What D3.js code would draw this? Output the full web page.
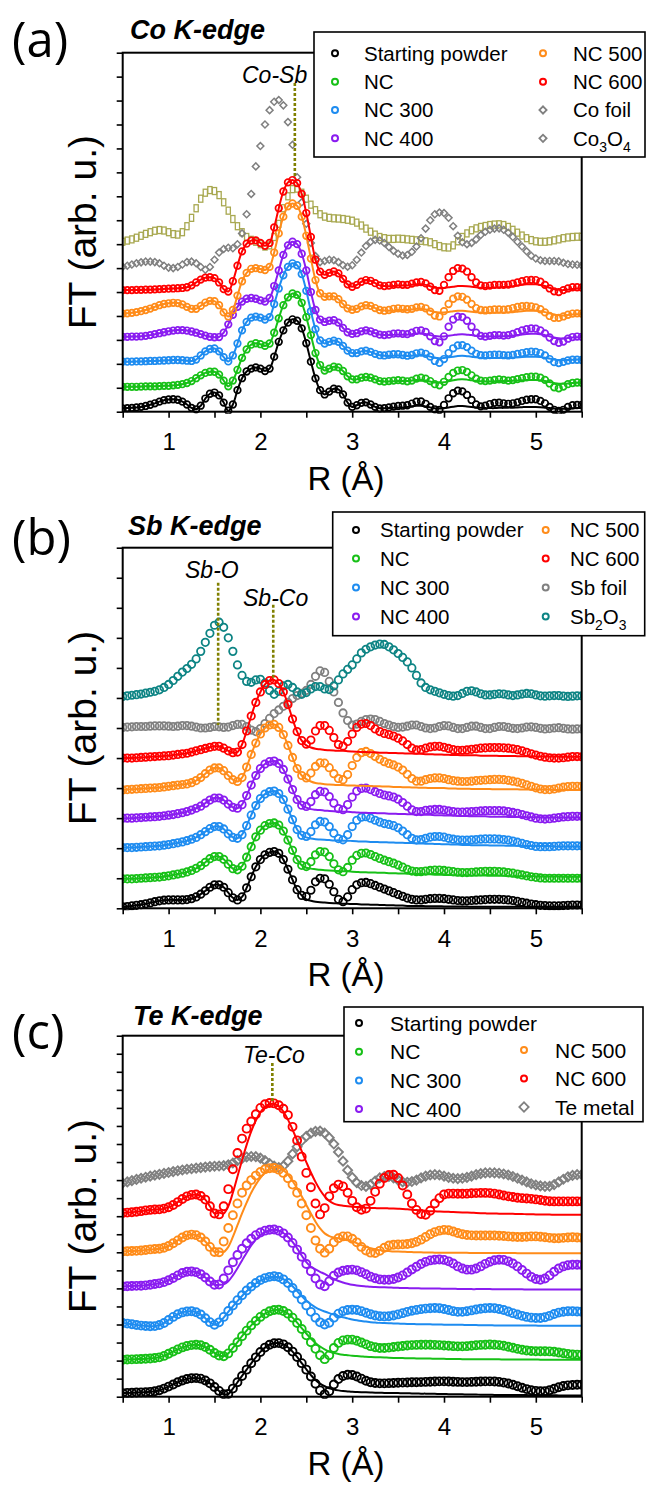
<!DOCTYPE html>
<html>
<head>
<meta charset="utf-8">
<script src="https://cdn.jsdelivr.net/npm/d3@7"></script>
<style>
  body { margin: 0; background: #fff; }
  svg { display: block; }
</style>
</head>
<body>
<svg id="chart" width="649" height="1487"></svg>
<script>
// ---------------------------------------------------------------
//  Data (FT magnitude, arb. u. on a 0.05 Å grid)
// ---------------------------------------------------------------

var rGrid = d3.range(101).map(function(i) { return Math.round((0.5 + i * 0.05) * 100) / 100; });
var rTicks = [0.5, 1, 1.5, 2, 2.5, 3, 3.5, 4, 4.5, 5, 5.5];

//  (a) Co K-edge
var coStart = [0.14,0.15,0.16,0.18,0.20,0.24,0.29,0.35,0.42,0.48, 0.51,0.52,0.50,0.42,0.30,0.16,0.10,0.25,0.55,0.75,
  0.80,0.68,0.38,0.04,0.30,0.90,1.40,1.68,1.80,1.85, 1.80,1.70,1.80,2.30,2.92,3.40,3.72,3.86,3.80,3.48,
  2.86,2.09,1.39,0.90,0.72,0.84,0.96,0.93,0.72,0.38, 0.20,0.27,0.37,0.39,0.30,0.20,0.14,0.15,0.18,0.21,
  0.24,0.25,0.27,0.34,0.42,0.43,0.33,0.20,0.10,0.07, 0.28,0.56,0.77,0.88,0.85,0.70,0.49,0.30,0.22,0.25,
  0.32,0.37,0.38,0.35,0.33,0.35,0.39,0.45,0.50,0.52, 0.52,0.45,0.35,0.20,0.08,0.03,0.08,0.20,0.27,0.28, 0.28];
var coNC = [1.04,1.04,1.04,1.04,1.05,1.06,1.06,1.06,1.07,1.08, 1.08,1.10,1.12,1.15,1.20,1.28,1.40,1.52,1.62,1.67,
  1.67,1.55,1.30,1.06,1.30,1.75,2.25,2.60,2.80,2.86, 2.82,2.75,2.85,3.30,3.90,4.45,4.78,4.94,4.88,4.55,
  3.95,3.20,2.45,1.95,1.72,1.80,1.88,1.85,1.70,1.48, 1.35,1.35,1.42,1.45,1.42,1.35,1.28,1.26,1.28,1.30,
  1.32,1.30,1.27,1.30,1.38,1.42,1.38,1.28,1.15,1.10, 1.25,1.45,1.62,1.72,1.74,1.66,1.52,1.38,1.30,1.28,
  1.30,1.33,1.35,1.33,1.30,1.32,1.36,1.40,1.44,1.46, 1.46,1.42,1.33,1.18,1.02,0.98,1.05,1.15,1.20,1.22, 1.21];
var coNC300 = [2.09,2.09,2.09,2.10,2.10,2.11,2.12,2.12,2.13,2.14, 2.15,2.16,2.16,2.15,2.13,2.12,2.18,2.35,2.52,2.62,
  2.64,2.52,2.28,2.10,2.35,2.85,3.40,3.75,3.93,3.97, 3.93,3.85,3.95,4.50,5.15,5.70,6.05,6.20,6.12,5.75,
  5.05,4.20,3.45,2.98,2.85,2.92,2.97,2.92,2.75,2.55, 2.45,2.45,2.52,2.55,2.50,2.42,2.36,2.35,2.38,2.40,
  2.40,2.37,2.34,2.37,2.44,2.47,2.42,2.30,2.12,2.04, 2.20,2.45,2.65,2.77,2.78,2.70,2.55,2.42,2.36,2.35,
  2.37,2.38,2.38,2.36,2.35,2.37,2.41,2.45,2.49,2.51, 2.50,2.45,2.35,2.20,2.07,2.03,2.08,2.14,2.17,2.17, 2.16];
var coNC400 = [3.13,3.13,3.14,3.14,3.15,3.17,3.20,3.24,3.28,3.32, 3.36,3.39,3.41,3.41,3.39,3.35,3.30,3.24,3.18,3.13,
  3.11,3.12,3.30,3.65,4.05,4.38,4.60,4.72,4.75,4.72, 4.65,4.60,4.75,5.25,5.90,6.55,6.95,7.10,7.00,6.60,
  5.90,5.00,4.25,3.85,3.75,3.80,3.82,3.72,3.50,3.32, 3.25,3.28,3.36,3.40,3.36,3.28,3.22,3.20,3.22,3.26,
  3.27,3.25,3.24,3.30,3.38,3.40,3.33,3.15,2.95,2.90, 3.15,3.55,3.85,3.97,3.95,3.80,3.55,3.30,3.17,3.14,
  3.17,3.20,3.20,3.18,3.20,3.25,3.32,3.40,3.45,3.48, 3.47,3.40,3.27,3.10,2.95,2.88,2.93,3.05,3.12,3.14, 3.13];
var coNC500 = [4.10,4.11,4.13,4.16,4.20,4.25,4.31,4.38,4.45,4.50, 4.53,4.55,4.54,4.48,4.38,4.30,4.30,4.42,4.56,4.63,
  4.62,4.45,4.15,3.98,4.25,4.85,5.45,5.80,5.97,6.00, 5.96,5.92,6.05,6.65,7.45,8.15,8.58,8.70,8.60,8.15,
  7.35,6.40,5.50,4.95,4.80,4.82,4.82,4.70,4.50,4.32, 4.26,4.30,4.40,4.45,4.42,4.33,4.25,4.22,4.25,4.30,
  4.32,4.30,4.28,4.30,4.36,4.38,4.32,4.18,4.02,3.98, 4.20,4.50,4.72,4.82,4.80,4.68,4.50,4.33,4.25,4.23,
  4.25,4.27,4.27,4.26,4.28,4.33,4.38,4.41,4.42,4.40, 4.36,4.28,4.15,4.00,3.92,3.92,3.98,4.05,4.10,4.11, 4.10];
var coNC600 = [5.08,5.08,5.08,5.09,5.09,5.10,5.10,5.11,5.12,5.13, 5.14,5.15,5.16,5.17,5.20,5.28,5.40,5.52,5.60,5.62,
  5.58,5.40,5.12,5.02,5.45,6.10,6.70,7.02,7.15,7.16, 7.05,6.93,7.05,7.70,8.50,9.20,9.58,9.68,9.55,9.10,
  8.30,7.30,6.35,5.85,5.72,5.80,5.86,5.78,5.55,5.32, 5.22,5.30,5.43,5.50,5.47,5.37,5.28,5.25,5.27,5.30,
  5.32,5.30,5.30,5.35,5.40,5.42,5.36,5.22,5.08,5.05, 5.30,5.62,5.88,6.00,5.98,5.85,5.62,5.40,5.28,5.25,
  5.27,5.30,5.30,5.30,5.31,5.35,5.40,5.45,5.50,5.51, 5.50,5.43,5.30,5.15,5.03,5.00,5.08,5.15,5.20,5.20, 5.19];
var coFoil = [6.06,6.10,6.15,6.20,6.24,6.27,6.27,6.25,6.20,6.10, 6.02,6.00,6.05,6.15,6.25,6.27,6.20,6.05,5.93,6.05,
  6.35,6.65,6.80,6.85,6.83,7.00,7.45,8.25,9.10,10.25, 11.10,12.00,12.60,12.95,13.02,12.80,12.10,11.15,9.80,8.75,
  7.85,7.05,6.50,6.25,6.30,6.35,6.33,6.25,6.12,6.06, 6.12,6.35,6.65,6.92,7.10,7.18,7.15,7.05,6.88,6.72,
  6.60,6.53,6.55,6.68,6.90,7.25,7.65,8.00,8.25,8.32, 8.30,8.10,7.75,7.35,7.08,7.00,7.05,7.20,7.38,7.52,
  7.60,7.65,7.66,7.60,7.48,7.30,7.10,6.90,6.70,6.52, 6.40,6.33,6.30,6.30,6.30,6.28,6.22,6.17,6.15,6.14, 6.12];
var co3O4 = [7.10,7.15,7.20,7.27,7.35,7.43,7.50,7.56,7.59,7.57, 7.50,7.42,7.40,7.50,7.75,8.10,8.50,8.90,9.15,9.26,
  9.22,9.05,8.75,8.40,8.05,7.75,7.50,7.30,7.18,7.10, 7.00,6.90,6.95,7.30,7.85,8.50,9.00,9.30,9.32,9.15,
  8.90,8.65,8.42,8.25,8.15,8.10,8.08,8.07,8.05,8.02, 7.98,7.90,7.78,7.65,7.52,7.40,7.30,7.25,7.22,7.22,
  7.23,7.22,7.20,7.18,7.16,7.14,7.12,7.08,7.00,6.92, 6.87,6.86,6.95,7.12,7.30,7.45,7.58,7.66,7.72,7.76,
  7.80,7.82,7.83,7.80,7.72,7.60,7.48,7.36,7.25,7.17, 7.12,7.10,7.10,7.12,7.16,7.20,7.25,7.28,7.30,7.31, 7.31];

//  (a) fits: identical to the data up to 3.25 Å, read separately beyond
var coFitTailStart = [0.14,0.14,0.15,0.16,0.17,0.18,0.20,0.23,0.25,0.25, 0.22,0.18,0.14,0.13,0.15,0.18,0.21,0.24,0.24,0.22,
  0.20,0.18,0.16,0.15,0.15,0.15,0.16,0.16,0.17,0.17, 0.18,0.19,0.20,0.20,0.20,0.19,0.17,0.15,0.13,0.12, 0.12,0.13,0.14,0.15,0.15];
var coFitTailNC = [1.28,1.26,1.26,1.27,1.28,1.28,1.28,1.30,1.32,1.32, 1.30,1.26,1.22,1.21,1.23,1.27,1.31,1.35,1.36,1.34,
  1.31,1.29,1.27,1.26,1.26,1.27,1.28,1.28,1.28,1.29, 1.30,1.31,1.32,1.32,1.32,1.31,1.28,1.24,1.20,1.17, 1.17,1.18,1.20,1.21,1.22];
var coFitTailNC300 = [2.36,2.34,2.33,2.34,2.35,2.34,2.33,2.34,2.36,2.37, 2.35,2.30,2.25,2.23,2.24,2.27,2.30,2.33,2.34,2.32,
  2.30,2.27,2.25,2.24,2.24,2.24,2.25,2.25,2.25,2.26, 2.27,2.29,2.30,2.30,2.30,2.29,2.26,2.22,2.18,2.15, 2.15,2.16,2.17,2.18,2.18];
var coFitTailNC400 = [3.22,3.20,3.20,3.21,3.22,3.22,3.22,3.24,3.27,3.27, 3.25,3.20,3.16,3.14,3.14,3.17,3.20,3.23,3.24,3.22,
  3.20,3.17,3.15,3.14,3.14,3.14,3.15,3.15,3.16,3.18, 3.20,3.23,3.25,3.26,3.26,3.24,3.20,3.15,3.10,3.07, 3.06,3.08,3.10,3.11,3.12];
var coFitTailNC500 = [4.25,4.23,4.22,4.23,4.25,4.25,4.25,4.27,4.30,4.30, 4.27,4.22,4.17,4.15,4.15,4.17,4.20,4.22,4.22,4.20,
  4.18,4.16,4.14,4.13,4.13,4.13,4.14,4.14,4.15,4.16, 4.18,4.20,4.22,4.22,4.22,4.20,4.16,4.11,4.06,4.03, 4.02,4.04,4.06,4.07,4.08];
var coFitTailNC600 = [5.28,5.25,5.24,5.25,5.27,5.27,5.27,5.30,5.33,5.33, 5.30,5.24,5.18,5.16,5.17,5.20,5.22,5.25,5.25,5.24,
  5.22,5.20,5.18,5.18,5.18,5.19,5.20,5.21,5.22,5.24, 5.27,5.30,5.32,5.33,5.32,5.29,5.25,5.18,5.12,5.09, 5.08,5.10,5.13,5.15,5.16];

//  (b) Sb K-edge
var sbStart = [0.05,0.06,0.08,0.10,0.12,0.15,0.18,0.22,0.25,0.27, 0.28,0.28,0.28,0.28,0.29,0.32,0.38,0.47,0.58,0.70,
  0.78,0.78,0.70,0.52,0.35,0.28,0.38,0.68,1.05,1.38, 1.62,1.78,1.86,1.89,1.83,1.62,1.30,0.95,0.62,0.43,
  0.39,0.60,0.88,1.00,0.98,0.80,0.55,0.30,0.22,0.38, 0.62,0.78,0.85,0.86,0.82,0.76,0.70,0.64,0.58,0.52,
  0.46,0.40,0.34,0.30,0.28,0.28,0.30,0.32,0.33,0.33, 0.32,0.30,0.28,0.26,0.25,0.25,0.26,0.27,0.28,0.29,
  0.30,0.30,0.30,0.29,0.28,0.26,0.23,0.20,0.17,0.14, 0.12,0.10,0.09,0.08,0.08,0.08,0.09,0.10,0.11,0.11, 0.11];
var sbNC = [0.98,0.98,0.98,0.99,1.00,1.01,1.02,1.03,1.04,1.06, 1.08,1.11,1.14,1.17,1.21,1.26,1.33,1.42,1.53,1.65,
  1.72,1.72,1.63,1.47,1.32,1.28,1.40,1.70,2.05,2.38, 2.60,2.75,2.82,2.84,2.77,2.57,2.27,1.93,1.62,1.43,
  1.39,1.55,1.78,1.89,1.87,1.72,1.48,1.28,1.22,1.36, 1.60,1.76,1.83,1.84,1.79,1.72,1.66,1.60,1.55,1.50,
  1.44,1.37,1.30,1.24,1.22,1.22,1.24,1.26,1.27,1.27, 1.26,1.24,1.22,1.20,1.19,1.19,1.20,1.21,1.22,1.23,
  1.23,1.23,1.22,1.21,1.19,1.17,1.14,1.11,1.08,1.05, 1.03,1.01,1.00,1.00,1.00,1.00,1.00,1.00,1.00,1.00, 1.00];
var sbNC300 = [2.02,2.02,2.02,2.03,2.04,2.05,2.06,2.07,2.08,2.10, 2.12,2.15,2.18,2.21,2.25,2.30,2.36,2.45,2.55,2.65,
  2.72,2.72,2.64,2.48,2.36,2.33,2.45,2.75,3.10,3.42, 3.65,3.80,3.88,3.90,3.82,3.62,3.30,2.95,2.62,2.43,
  2.39,2.55,2.78,2.89,2.87,2.72,2.50,2.32,2.28,2.45, 2.72,2.93,3.03,3.05,3.00,2.93,2.87,2.82,2.79,2.75,
  2.68,2.57,2.45,2.33,2.28,2.29,2.33,2.37,2.39,2.39, 2.37,2.33,2.30,2.28,2.27,2.27,2.28,2.29,2.30,2.31,
  2.31,2.31,2.30,2.29,2.27,2.24,2.20,2.16,2.12,2.09, 2.06,2.05,2.05,2.05,2.06,2.07,2.08,2.08,2.08,2.08, 2.08];
var sbNC400 = [3.00,3.00,3.00,3.01,3.02,3.03,3.04,3.05,3.06,3.08, 3.10,3.12,3.15,3.18,3.22,3.27,3.33,3.40,3.50,3.60,
  3.67,3.67,3.60,3.47,3.36,3.33,3.45,3.75,4.10,4.42, 4.65,4.80,4.88,4.90,4.82,4.62,4.30,3.95,3.62,3.43,
  3.39,3.55,3.78,3.89,3.87,3.72,3.50,3.32,3.28,3.45, 3.70,3.90,3.99,4.00,3.95,3.88,3.82,3.77,3.74,3.70,
  3.63,3.52,3.40,3.28,3.22,3.22,3.26,3.28,3.29,3.29, 3.27,3.24,3.22,3.20,3.20,3.21,3.22,3.23,3.24,3.25,
  3.25,3.25,3.25,3.24,3.22,3.19,3.16,3.12,3.08,3.04, 3.00,2.98,2.97,2.98,3.00,3.02,3.04,3.05,3.06,3.06, 3.06];
var sbNC500 = [3.94,3.95,3.96,3.97,3.98,3.99,4.00,4.01,4.02,4.04, 4.06,4.08,4.10,4.12,4.14,4.18,4.25,4.35,4.48,4.60,
  4.67,4.67,4.58,4.42,4.28,4.22,4.35,4.70,5.12,5.50, 5.80,6.00,6.10,6.12,6.02,5.78,5.42,5.02,4.65,4.42,
  4.34,4.50,4.72,4.84,4.83,4.68,4.48,4.32,4.28,4.45, 4.75,5.02,5.18,5.22,5.15,5.05,4.96,4.88,4.82,4.77,
  4.70,4.60,4.46,4.32,4.23,4.23,4.28,4.32,4.34,4.34, 4.32,4.28,4.25,4.23,4.22,4.22,4.23,4.25,4.26,4.27,
  4.28,4.29,4.29,4.28,4.26,4.23,4.20,4.16,4.11,4.06, 4.01,3.97,3.95,3.95,3.97,4.00,4.03,4.05,4.06,4.06, 4.06];
var sbNC600 = [5.00,5.00,5.00,5.01,5.02,5.03,5.04,5.05,5.06,5.07, 5.08,5.10,5.12,5.14,5.16,5.20,5.24,5.28,5.32,5.36,
  5.39,5.39,5.33,5.24,5.18,5.20,5.45,5.90,6.40,6.85, 7.20,7.45,7.58,7.60,7.48,7.20,6.78,6.30,5.88,5.58,
  5.46,5.60,5.90,6.08,6.08,5.92,5.68,5.45,5.40,5.55, 5.80,6.02,6.13,6.15,6.08,5.97,5.88,5.82,5.78,5.73,
  5.66,5.57,5.45,5.33,5.27,5.28,5.33,5.37,5.39,5.39, 5.36,5.32,5.28,5.26,5.26,5.27,5.29,5.31,5.33,5.34,
  5.35,5.35,5.35,5.34,5.33,5.31,5.28,5.24,5.19,5.14, 5.10,5.06,5.03,5.01,5.00,5.00,5.01,5.03,5.05,5.05, 5.04];
var sbFoil = [6.02,6.03,6.04,6.05,6.05,6.05,6.06,6.07,6.07,6.07, 6.06,6.05,6.06,6.08,6.08,6.06,6.03,6.00,6.00,6.02,
  6.05,6.04,6.02,6.03,6.08,6.12,6.12,6.05,5.93,5.88, 5.98,6.15,6.32,6.48,6.60,6.72,6.85,6.98,7.08,7.15,
  7.25,7.45,7.72,7.90,7.85,7.55,7.20,6.85,6.50,6.25, 6.10,6.13,6.22,6.28,6.30,6.28,6.22,6.15,6.10,6.05,
  6.02,6.03,6.06,6.10,6.10,6.05,6.00,5.98,6.00,6.05, 6.08,6.07,6.02,5.98,5.98,6.02,6.06,6.06,6.02,5.98,
  5.98,6.02,6.05,6.05,6.02,5.99,5.98,6.00,6.03,6.04, 6.02,5.99,5.97,5.98,6.00,6.01,5.99,5.97,5.96,5.97, 5.97];
var sb2O3 = [7.05,7.07,7.09,7.11,7.13,7.16,7.19,7.22,7.27,7.35, 7.45,7.58,7.72,7.86,7.98,8.12,8.30,8.55,8.85,9.15,
  9.42,9.52,9.35,9.00,8.55,8.10,7.75,7.55,7.52,7.60, 7.62,7.50,7.25,7.12,7.22,7.40,7.45,7.35,7.20,7.12,
  7.18,7.30,7.38,7.38,7.30,7.28,7.40,7.60,7.80,7.95, 8.10,8.30,8.50,8.62,8.70,8.76,8.79,8.78,8.70,8.60,
  8.48,8.35,8.20,8.00,7.75,7.50,7.35,7.27,7.22,7.17, 7.12,7.08,7.06,7.08,7.15,7.22,7.24,7.20,7.14,7.10,
  7.10,7.12,7.14,7.13,7.10,7.08,7.10,7.13,7.15,7.14, 7.10,7.07,7.06,7.07,7.08,7.08,7.06,7.05,7.06,7.07, 7.07];

//  (b) fits: identical to the data up to 2.45 Å, read separately beyond
var sbFitTailStart = [0.30,0.25,0.22,0.20,0.19,0.18,0.17,0.16,0.15,0.15, 0.14,0.14,0.13,0.13,0.12,0.12,0.11,0.11,0.10,0.10,
  0.09,0.09,0.08,0.08,0.08,0.08,0.07,0.07,0.07,0.07, 0.06,0.06,0.06,0.06,0.06,0.06,0.05,0.05,0.05,0.05,
  0.05,0.05,0.05,0.05,0.05,0.05,0.05,0.05,0.05,0.05, 0.05,0.05,0.05,0.05,0.05,0.05,0.05,0.05,0.05,0.05, 0.05];
var sbFitTailNC = [1.35,1.32,1.30,1.28,1.27,1.26,1.25,1.24,1.23,1.23, 1.22,1.21,1.20,1.20,1.19,1.19,1.18,1.18,1.17,1.17,
  1.16,1.16,1.15,1.15,1.14,1.14,1.13,1.13,1.12,1.12, 1.11,1.11,1.10,1.10,1.10,1.10,1.09,1.09,1.09,1.09,
  1.08,1.08,1.08,1.08,1.07,1.07,1.07,1.07,1.07,1.07, 1.06,1.06,1.06,1.06,1.06,1.06,1.05,1.05,1.05,1.05, 1.05];
var sbFitTailNC300 = [2.36,2.32,2.30,2.29,2.28,2.27,2.26,2.26,2.25,2.25, 2.24,2.23,2.22,2.22,2.21,2.21,2.20,2.20,2.19,2.19,
  2.18,2.18,2.17,2.17,2.16,2.16,2.15,2.15,2.14,2.14, 2.13,2.13,2.12,2.12,2.11,2.11,2.10,2.10,2.10,2.10,
  2.09,2.09,2.09,2.09,2.08,2.08,2.08,2.08,2.07,2.07, 2.07,2.07,2.07,2.07,2.06,2.06,2.06,2.06,2.06,2.06, 2.06];
var sbFitTailNC400 = [3.35,3.30,3.28,3.27,3.25,3.24,3.23,3.22,3.21,3.21, 3.20,3.19,3.18,3.18,3.17,3.17,3.16,3.16,3.15,3.15,
  3.14,3.14,3.13,3.13,3.12,3.12,3.11,3.11,3.10,3.10, 3.09,3.09,3.08,3.08,3.07,3.07,3.06,3.06,3.06,3.06,
  3.05,3.05,3.05,3.05,3.04,3.04,3.04,3.04,3.03,3.03, 3.03,3.03,3.02,3.02,3.02,3.02,3.02,3.02,3.02,3.02, 3.02];
var sbFitTailNC500 = [4.30,4.22,4.17,4.15,4.13,4.12,4.11,4.10,4.10,4.09, 4.09,4.08,4.08,4.07,4.07,4.06,4.06,4.05,4.05,4.04,
  4.04,4.03,4.03,4.02,4.02,4.01,4.01,4.00,4.00,4.00, 4.00,3.99,3.99,3.98,3.98,3.98,3.97,3.97,3.97,3.97,
  3.97,3.96,3.96,3.96,3.96,3.96,3.96,3.95,3.95,3.95, 3.95,3.95,3.95,3.95,3.94,3.94,3.94,3.94,3.94,3.94, 3.94];
var sbFitTailNC600 = [5.42,5.35,5.31,5.29,5.27,5.26,5.25,5.24,5.24,5.23, 5.22,5.21,5.20,5.20,5.19,5.19,5.18,5.18,5.17,5.17,
  5.16,5.16,5.15,5.15,5.14,5.14,5.13,5.13,5.12,5.12, 5.11,5.11,5.10,5.10,5.09,5.09,5.09,5.09,5.08,5.08,
  5.08,5.08,5.07,5.07,5.07,5.07,5.06,5.06,5.06,5.06, 5.05,5.05,5.05,5.05,5.05,5.05,5.04,5.04,5.04,5.04, 5.04];

//  (c) Te K-edge
var teStart = [0.20,0.21,0.22,0.23,0.24,0.25,0.27,0.30,0.36,0.45, 0.56,0.68,0.80,0.90,0.98,1.02,1.03,1.00,0.90,0.74,
  0.54,0.32,0.14,0.15,0.45,0.80,1.15,1.50,1.85,2.18, 2.48,2.72,2.88,2.96,2.97,2.90,2.74,2.50,2.20,1.86,
  1.50,1.12,0.72,0.35,0.13,0.30,0.68,0.98,1.15,1.22, 1.20,1.12,1.00,0.88,0.80,0.76,0.74,0.74,0.75,0.76,
  0.77,0.78,0.79,0.80,0.80,0.81,0.82,0.83,0.84,0.85, 0.85,0.84,0.83,0.82,0.81,0.81,0.82,0.83,0.84,0.85,
  0.85,0.84,0.82,0.78,0.73,0.66,0.58,0.50,0.42,0.36, 0.32,0.30,0.31,0.36,0.44,0.52,0.59,0.63,0.65,0.66, 0.66];
var teNC = [2.05,2.06,2.07,2.08,2.09,2.10,2.12,2.14,2.18,2.26, 2.38,2.50,2.62,2.73,2.81,2.86,2.88,2.85,2.75,2.60,
  2.42,2.28,2.24,2.40,2.70,3.02,3.35,3.66,3.95,4.20, 4.42,4.60,4.73,4.80,4.82,4.75,4.60,4.38,4.08,3.75,
  3.40,3.02,2.65,2.30,2.08,2.30,2.70,2.98,3.12,3.16, 3.16,3.10,3.00,2.90,2.80,2.74,2.70,2.70,2.72,2.75,
  2.78,2.81,2.84,2.86,2.87,2.88,2.88,2.88,2.87,2.86, 2.84,2.82,2.80,2.79,2.79,2.80,2.82,2.85,2.87,2.88,
  2.89,2.88,2.86,2.82,2.77,2.71,2.65,2.60,2.56,2.53, 2.52,2.52,2.52,2.51,2.49,2.45,2.41,2.37,2.34,2.33, 2.33];
var teNC300 = [4.08,4.05,4.01,3.97,3.94,3.92,3.90,3.91,3.97,4.08, 4.25,4.42,4.57,4.67,4.72,4.73,4.68,4.55,4.35,4.13,
  3.99,4.12,4.42,4.75,5.05,5.35,5.62,5.88,6.10,6.30, 6.46,6.57,6.64,6.67,6.63,6.50,6.30,6.02,5.70,5.38,
  5.05,4.70,4.38,4.12,4.00,4.10,4.38,4.60,4.74,4.80, 4.82,4.80,4.74,4.65,4.57,4.50,4.46,4.45,4.46,4.50,
  4.56,4.63,4.70,4.76,4.81,4.85,4.88,4.90,4.91,4.90, 4.86,4.80,4.74,4.70,4.70,4.73,4.78,4.83,4.87,4.90,
  4.91,4.90,4.86,4.80,4.72,4.63,4.55,4.48,4.42,4.38, 4.36,4.36,4.40,4.48,4.58,4.66,4.71,4.73,4.73,4.72, 4.71];
var teNC400 = [6.11,6.12,6.13,6.14,6.15,6.17,6.20,6.24,6.28,6.35, 6.45,6.58,6.72,6.85,6.92,6.94,6.90,6.78,6.60,6.38,
  6.20,6.22,6.55,7.00,7.45,7.85,8.20,8.50,8.75,8.95, 9.10,9.20,9.25,9.26,9.20,9.05,8.82,8.52,8.15,7.75,
  7.35,6.95,6.55,6.22,6.12,6.40,6.70,6.88,6.98,7.02, 7.04,7.00,6.90,6.78,6.65,6.56,6.50,6.48,6.48,6.52,
  6.60,6.72,6.88,7.05,7.20,7.35,7.47,7.55,7.59,7.60, 7.58,7.50,7.38,7.22,7.10,7.04,7.04,7.10,7.22,7.36,
  7.48,7.56,7.59,7.58,7.50,7.38,7.22,7.02,6.82,6.64, 6.52,6.48,6.55,6.72,6.92,7.10,7.22,7.28,7.31,7.31, 7.30];
var teNC500 = [8.05,8.06,8.07,8.08,8.10,8.13,8.16,8.18,8.20,8.25, 8.35,8.50,8.66,8.82,8.94,8.98,8.95,8.82,8.60,8.30,
  8.02,8.00,8.60,9.35,10.05,10.70,11.30,11.70,12.00,12.25, 12.45,12.60,12.66,12.67,12.58,12.40,12.10,11.75,11.30,10.70,
  10.05,9.35,8.65,8.20,7.98,8.20,8.55,8.78,8.88,8.88, 8.75,8.55,8.30,8.10,7.98,7.96,8.08,8.25,8.38,8.42,
  8.43,8.44,8.46,8.50,8.58,8.70,8.85,9.00,9.12,9.20, 9.24,9.22,9.15,9.07,9.00,8.96,8.94,8.93,8.93,8.93,
  8.93,8.93,8.92,8.90,8.88,8.86,8.85,8.85,8.86,8.88, 8.88,8.86,8.83,8.80,8.78,8.78,8.80,8.82,8.83,8.82, 8.80];
var teNC600 = [10.18,10.20,10.22,10.25,10.28,10.32,10.35,10.37,10.38,10.42, 10.50,10.62,10.78,10.95,11.10,11.18,11.20,11.12,10.92,10.55,
  10.15,10.10,10.55,11.50,12.60,13.50,14.30,14.85,15.25,15.65, 16.00,16.20,16.27,16.25,16.15,15.95,15.60,14.95,14.20,13.30,
  12.40,11.60,10.70,10.10,10.45,11.10,11.55,11.75,11.65,11.30, 10.85,10.50,10.36,10.42,10.85,11.35,11.80,12.12,12.28,12.30,
  12.12,11.70,11.20,10.70,10.35,10.12,10.08,10.30,10.70,11.00, 11.20,11.25,11.25,11.24,11.24,11.25,11.27,11.28,11.29,11.29,
  11.28,11.25,11.20,11.15,11.10,11.06,11.02,11.00,10.98,10.96, 10.93,10.90,10.86,10.83,10.82,10.82,10.82,10.82,10.82,10.82, 10.82];
var teMetal = [11.84,11.90,11.97,12.04,12.10,12.16,12.22,12.27,12.32,12.37, 12.42,12.47,12.52,12.56,12.60,12.63,12.66,12.69,12.72,12.75,
  12.77,12.78,12.80,12.85,12.95,13.08,13.20,13.28,13.31,13.30, 13.22,13.08,12.92,12.78,12.70,12.78,13.05,13.45,13.85,14.18,
  14.42,14.60,14.70,14.72,14.60,14.35,14.00,13.55,13.05,12.55, 12.15,11.85,11.70,11.65,11.75,11.95,12.12,12.20,12.20,12.12,
  12.00,11.90,11.88,11.92,12.00,12.12,12.22,12.28,12.30,12.28, 12.22,12.15,12.10,12.08,12.10,12.15,12.22,12.30,12.36,12.40,
  12.41,12.40,12.38,12.34,12.28,12.20,12.10,12.00,11.90,11.80, 11.73,11.68,11.65,11.66,11.75,11.90,12.05,12.18,12.26,12.30, 12.30];

//  (c) fits: identical to the data up to 1.5 Å, read separately beyond
var teFitTailStart = [0.32,0.14,0.15,0.45,0.80,1.15,1.50,1.85,2.18,2.48, 2.72,2.88,2.96,2.97,2.90,2.74,2.50,2.20,1.86,1.52,
  1.20,0.92,0.72,0.58,0.47,0.40,0.35,0.31,0.29,0.27, 0.26,0.25,0.24,0.23,0.22,0.22,0.21,0.21,0.20,0.20,
  0.19,0.19,0.18,0.18,0.17,0.17,0.16,0.16,0.15,0.15, 0.14,0.14,0.13,0.13,0.12,0.12,0.12,0.11,0.11,0.11,
  0.10,0.10,0.10,0.10,0.09,0.09,0.09,0.09,0.08,0.08, 0.08,0.08,0.08,0.08,0.07,0.07,0.07,0.07,0.07,0.07];
var teFitTailNC = [2.28,2.24,2.40,2.70,3.02,3.35,3.66,3.95,4.20,4.42, 4.60,4.73,4.80,4.82,4.75,4.60,4.38,4.10,3.80,3.50,
  3.22,2.98,2.78,2.62,2.50,2.42,2.37,2.33,2.30,2.27, 2.25,2.23,2.21,2.20,2.19,2.18,2.17,2.16,2.15,2.14,
  2.14,2.13,2.13,2.12,2.12,2.11,2.11,2.10,2.10,2.10, 2.09,2.09,2.09,2.08,2.08,2.08,2.08,2.07,2.07,2.07,
  2.07,2.07,2.06,2.06,2.06,2.06,2.06,2.06,2.06,2.06, 2.05,2.05,2.05,2.05,2.05,2.05,2.05,2.05,2.05,2.05];
var teFitTailNC300 = [4.10,4.38,4.70,5.00,5.30,5.58,5.84,6.07,6.27,6.43, 6.55,6.62,6.65,6.62,6.52,6.35,6.12,5.85,5.58,5.33,
  5.12,4.95,4.82,4.72,4.63,4.55,4.47,4.40,4.34,4.28, 4.23,4.19,4.16,4.13,4.11,4.09,4.08,4.07,4.06,4.05,
  4.04,4.03,4.03,4.02,4.02,4.01,4.01,4.00,4.00,3.99, 3.99,3.98,3.98,3.98,3.97,3.97,3.97,3.96,3.96,3.96,
  3.95,3.95,3.95,3.95,3.94,3.94,3.94,3.94,3.94,3.94, 3.93,3.93,3.93,3.93,3.93,3.93,3.93,3.93,3.93,3.93];
var teFitTailNC400 = [6.20,6.22,6.40,6.72,7.12,7.55,7.98,8.38,8.70,8.95, 9.12,9.22,9.25,9.20,9.07,8.86,8.58,8.22,7.82,7.45,
  7.20,7.05,6.92,6.80,6.66,6.52,6.41,6.33,6.26,6.20, 6.16,6.13,6.11,6.09,6.08,6.07,6.06,6.05,6.04,6.03,
  6.02,6.02,6.01,6.01,6.00,6.00,5.99,5.99,5.99,5.98, 5.98,5.98,5.97,5.97,5.97,5.96,5.96,5.96,5.96,5.96,
  5.95,5.95,5.95,5.95,5.95,5.95,5.95,5.94,5.94,5.94, 5.94,5.94,5.94,5.94,5.94,5.94,5.94,5.94,5.94,5.94];
var teFitTailNC500 = [8.05,8.02,8.30,8.85,9.50,10.15,10.75,11.30,11.75,12.12, 12.42,12.62,12.72,12.70,12.55,12.30,11.95,11.55,11.10,10.62,
  10.15,9.70,9.32,9.05,8.90,8.82,8.78,8.74,8.68,8.60, 8.50,8.40,8.30,8.22,8.16,8.12,8.09,8.07,8.05,8.04,
  8.03,8.02,8.01,8.00,8.00,7.99,7.99,7.98,7.98,7.98, 7.97,7.97,7.97,7.97,7.97,7.96,7.96,7.96,7.96,7.96,
  7.96,7.96,7.96,7.96,7.96,7.95,7.95,7.95,7.95,7.95, 7.95,7.95,7.95,7.95,7.95,7.95,7.95,7.95,7.95,7.95];
var teFitTailNC600 = [10.20,10.15,10.55,11.30,12.20,13.10,13.95,14.70,15.30,15.75, 16.05,16.20,16.22,16.10,15.80,15.35,14.80,14.20,13.60,13.00,
  12.42,11.90,11.45,11.10,10.85,10.70,10.62,10.58,10.55,10.53, 10.51,10.49,10.47,10.46,10.45,10.44,10.44,10.43,10.42,10.41,
  10.40,10.38,10.36,10.34,10.32,10.30,10.28,10.27,10.26,10.25, 10.24,10.23,10.22,10.21,10.20,10.19,10.18,10.17,10.16,10.15,
  10.15,10.14,10.14,10.13,10.13,10.12,10.12,10.11,10.11,10.10, 10.10,10.09,10.09,10.08,10.08,10.08,10.08,10.08,10.08,10.08];

// ---------------------------------------------------------------
//  Styles and layout
// ---------------------------------------------------------------

var FONT = '"Liberation Sans", Arial, Helvetica, sans-serif';
var COLORS = {
    start: '#000000', nc: '#17c017', nc300: '#1e8cf0', nc400: '#8a1cf0',
    nc500: '#ff8c1a', nc600: '#ff0000', gray: '#808080', olive: '#a8a850', teal: '#0d8484', bond: '#808000'
};
var X_RANGE = [122.7, 581.7];

function samples(vals, fits, cut) {
    var names = ['Starting powder', 'NC', 'NC 300', 'NC 400', 'NC 500', 'NC 600'];
    var keys = ['start', 'nc', 'nc300', 'nc400', 'nc500', 'nc600'];
    return vals.map(function(v, i) {
        return { name: names[i], values: v, fit: v.slice(0, cut).concat(fits[i]),
                 color: COLORS[keys[i]], marker: 'circle' };
    });
}

var panels = [
    {
        letter: '(a)', letterY: 57, title: 'Co K-edge', titleX: 130, titleY: 39,
        top: 52.7, bottom: 411.7, yMax: 15, radius: 3.3, sw: 1.7,
        refs: [
            { name: 'Co\u2083O\u2084', values: co3O4, color: COLORS.olive, marker: 'rect', w: 4.2, h: 7, sw: 1.3 },
            { name: 'Co foil', values: coFoil, color: COLORS.gray, marker: 'diamond', size: 24, sw: 1.5 }
        ],
        samples: samples([coStart, coNC, coNC300, coNC400, coNC500, coNC600],
            [coFitTailStart, coFitTailNC, coFitTailNC300, coFitTailNC400, coFitTailNC500, coFitTailNC600], 56),
        bonds: [ { text: 'Co-Sb', r: 2.375, from: 13.73, to: 9.76, tx: 242, ty: 83 } ],
        legend: { x: 314, y: 32, w: 331, h: 125, size: 20.5,
            items: [
                { name: 'Starting powder', mx: 335, tx: 364, y: 53.3 },
                { name: 'NC', mx: 335, tx: 364, y: 81.7 },
                { name: 'NC 300', mx: 335, tx: 364, y: 110 },
                { name: 'NC 400', mx: 335, tx: 364, y: 138.3 },
                { name: 'NC 500', mx: 543, tx: 573, y: 53.3 },
                { name: 'NC 600', mx: 543, tx: 573, y: 81.7 },
                { name: 'Co foil', mx: 543, tx: 573, y: 110 },
                { name: 'Co\u2083O\u2084', mx: 543, tx: 573, y: 138.3, label: [['Co'], ['3', 1], ['O'], ['4', 1]], legendMarker: 'diamond' }
            ] }
    },
    {
        letter: '(b)', letterY: 555, title: 'Sb K-edge', titleX: 128, titleY: 535,
        top: 547.7, bottom: 908.3, yMax: 12, radius: 3.7, sw: 1.8,
        refs: [
            { name: 'Sb foil', values: sbFoil, color: COLORS.gray, marker: 'circle' },
            { name: 'Sb\u2082O\u2083', values: sb2O3, color: COLORS.teal, marker: 'circle' }
        ],
        samples: samples([sbStart, sbNC, sbNC300, sbNC400, sbNC500, sbNC600],
            [sbFitTailStart, sbFitTailNC, sbFitTailNC300, sbFitTailNC400, sbFitTailNC500, sbFitTailNC600], 40),
        bonds: [
            { text: 'Sb-O', r: 1.54, from: 10.83, to: 6.1, tx: 185, ty: 578 },
            { text: 'Sb-Co', r: 2.14, from: 10.1, to: 7.66, tx: 243, ty: 606 }
        ],
        legend: { x: 332.7, y: 512, w: 312, h: 123.7, size: 20.5,
            items: [
                { name: 'Starting powder', mx: 356, tx: 380, y: 530 },
                { name: 'NC', mx: 356, tx: 380, y: 558.5 },
                { name: 'NC 300', mx: 356, tx: 380, y: 587.5 },
                { name: 'NC 400', mx: 356, tx: 380, y: 616.5 },
                { name: 'NC 500', mx: 545.7, tx: 570, y: 530 },
                { name: 'NC 600', mx: 545.7, tx: 570, y: 558.5 },
                { name: 'Sb foil', mx: 545.7, tx: 570, y: 587.5 },
                { name: 'Sb\u2082O\u2083', mx: 545.7, tx: 570, y: 616.5, label: [['Sb'], ['2', 1], ['O'], ['3', 1]] }
            ] }
    },
    {
        letter: '(c)', letterY: 1049, title: 'Te K-edge', titleX: 133, titleY: 1025,
        top: 1035.7, bottom: 1396.7, yMax: 20, radius: 4.0, sw: 1.9,
        refs: [
            { name: 'Te metal', values: teMetal, color: COLORS.gray, marker: 'diamond', size: 40, sw: 1.9 }
        ],
        samples: samples([teStart, teNC, teNC300, teNC400, teNC500, teNC600],
            [teFitTailStart, teFitTailNC, teFitTailNC300, teFitTailNC400, teFitTailNC500, teFitTailNC600], 21),
        bonds: [ { text: 'Te-Co', r: 2.13, from: 18.49, to: 16.38, tx: 243, ty: 1063 } ],
        legend: { x: 344, y: 1007, w: 299, h: 114.7, size: 21,
            items: [
                { name: 'Starting powder', mx: 359, tx: 390, y: 1023 },
                { name: 'NC', mx: 359, tx: 390, y: 1051.7 },
                { name: 'NC 300', mx: 359, tx: 390, y: 1080.5 },
                { name: 'NC 400', mx: 359, tx: 390, y: 1109 },
                { name: 'NC 500', mx: 524, tx: 555, y: 1050 },
                { name: 'NC 600', mx: 524, tx: 555, y: 1078.5 },
                { name: 'Te metal', mx: 524, tx: 555, y: 1107, legendSize: 44 }
            ] }
    }
];

// ---------------------------------------------------------------
//  Drawing
// ---------------------------------------------------------------

var svg = d3.select('#chart');
var defs = svg.append('defs');

function drawMarkers(layer, s, x, y, p) {
    var pts = s.values.map(function(v, i) { return [rGrid[i], v]; });
    var sel = layer.append('g').attr('fill', 'none').attr('stroke', s.color);
    if (s.marker === 'circle') {
        sel.attr('stroke-width', s.sw || p.sw)
            .selectAll('circle').data(pts).join('circle')
            .attr('cx', function(d) { return x(d[0]); })
            .attr('cy', function(d) { return y(d[1]); })
            .attr('r', s.r || p.radius);
    } else if (s.marker === 'rect') {
        sel.attr('stroke-width', s.sw)
            .selectAll('rect').data(pts).join('rect')
            .attr('x', function(d) { return x(d[0]) - s.w / 2; })
            .attr('y', function(d) { return y(d[1]) - s.h / 2; })
            .attr('width', s.w).attr('height', s.h);
    } else {
        var sym = d3.symbol().type(d3.symbolSquare).size(s.size)();
        sel.attr('stroke-width', s.sw)
            .selectAll('path').data(pts).join('path')
            .attr('d', sym)
            .attr('transform', function(d) { return 'translate(' + x(d[0]) + ',' + y(d[1]) + ') rotate(45)'; });
    }
}

function addLabel(g, item, L) {
    var t = g.append('text')
        .attr('x', item.tx).attr('y', item.y).attr('dy', '0.36em')
        .attr('font-family', FONT).attr('font-size', L.size).attr('fill', '#000');
    var parts = item.label || [[item.name]];
    var shifted = false;
    parts.forEach(function(pt) {
        var ts = t.append('tspan').text(pt[0]);
        if (pt[1]) {
            ts.attr('font-size', L.size * 0.68).attr('dy', shifted ? 0 : 6);
            shifted = true;
        } else if (shifted) {
            ts.attr('dy', -6);
            shifted = false;
        }
    });
}

panels.forEach(function(p, pi) {

    var x = d3.scaleLinear().domain([0.5, 5.5]).range(X_RANGE);
    var y = d3.scaleLinear().domain([0, p.yMax]).range([p.bottom, p.top]);
    var g = svg.append('g');

    var clipId = 'clip' + pi;
    defs.append('clipPath').attr('id', clipId).append('rect')
        .attr('x', X_RANGE[0]).attr('y', p.top)
        .attr('width', X_RANGE[1] - X_RANGE[0]).attr('height', p.bottom - p.top + 2);

    var plot = g.append('g').attr('clip-path', 'url(#' + clipId + ')');

    //  reference spectra first, then the samples with their fits on top
    p.refs.forEach(function(s) { drawMarkers(plot, s, x, y, p); });

    var fitLine = d3.line()
        .x(function(d, i) { return x(rGrid[i]); })
        .y(function(d) { return y(d); })
        .curve(d3.curveCatmullRom.alpha(0.5));

    p.samples.forEach(function(s) {
        drawMarkers(plot, s, x, y, p);
        plot.append('path').datum(s.fit)
            .attr('d', fitLine)
            .attr('fill', 'none').attr('stroke', s.color).attr('stroke-width', 2);
    });

    //  bond annotations
    p.bonds.forEach(function(b) {
        g.append('line')
            .attr('x1', x(b.r)).attr('x2', x(b.r))
            .attr('y1', y(b.from)).attr('y2', y(b.to))
            .attr('stroke', COLORS.bond).attr('stroke-width', 2.6)
            .attr('stroke-dasharray', '3,2');
        g.append('text').attr('x', b.tx).attr('y', b.ty)
            .attr('font-family', FONT).attr('font-style', 'italic').attr('font-size', 23)
            .text(b.text);
    });

    //  frame
    g.append('rect')
        .attr('x', X_RANGE[0]).attr('y', p.top)
        .attr('width', X_RANGE[1] - X_RANGE[0]).attr('height', p.bottom - p.top)
        .attr('fill', 'none').attr('stroke', '#000').attr('stroke-width', 2);

    //  x axis
    var gx = g.append('g').attr('transform', 'translate(0,' + p.bottom + ')')
        .call(d3.axisBottom(x).tickValues(rTicks).tickSize(6).tickSizeOuter(0)
            .tickFormat(function(d) { return Number.isInteger(d) ? d : ''; }));
    gx.select('.domain').remove();
    gx.attr('font-family', FONT).attr('font-size', 24);
    gx.selectAll('line').attr('stroke-width', 1.6);
    gx.selectAll('text').attr('y', 38.5).attr('dy', 0);

    //  y axis (ticks only, no labels)
    var gy = g.append('g').attr('transform', 'translate(' + X_RANGE[0] + ',0)')
        .call(d3.axisLeft(y).tickValues(d3.range(0, p.yMax + 1)).tickSize(6).tickSizeOuter(0).tickFormat(''));
    gy.select('.domain').remove();
    gy.selectAll('line').attr('stroke-width', 1.6);

    //  axis titles
    g.append('text')
        .attr('x', 346).attr('y', p.bottom + 78)
        .attr('text-anchor', 'middle')
        .attr('font-family', FONT).attr('font-size', 33)
        .text('R (\u00c5)');
    g.append('text')
        .attr('transform', 'translate(96,' + ((p.top + p.bottom) / 2) + ') rotate(-90)')
        .attr('text-anchor', 'middle')
        .attr('font-family', FONT).attr('font-size', 39)
        .text('FT (arb. u.)');

    //  panel letter and edge title
    g.append('text')
        .attr('x', 12).attr('y', p.letterY)
        .attr('font-family', '"Open Sans", "Noto Sans", sans-serif').attr('font-size', 49)
        .text(p.letter);
    g.append('text')
        .attr('x', p.titleX).attr('y', p.titleY)
        .attr('font-family', FONT).attr('font-weight', 'bold').attr('font-style', 'italic')
        .attr('font-size', 27)
        .text(p.title);

    //  legend
    var L = p.legend;
    var lg = g.append('g');
    lg.append('rect')
        .attr('x', L.x).attr('y', L.y).attr('width', L.w).attr('height', L.h)
        .attr('fill', '#fff').attr('stroke', '#000').attr('stroke-width', 1.6);

    var allSeries = p.samples.concat(p.refs);
    L.items.forEach(function(item) {
        var s = allSeries.filter(function(d) { return d.name === item.name; })[0];
        var kind = item.legendMarker || (s.marker === 'circle' ? 'circle' : 'diamond');
        if (kind === 'circle') {
            lg.append('circle').attr('cx', item.mx).attr('cy', item.y).attr('r', 3)
                .attr('fill', 'none').attr('stroke', s.color).attr('stroke-width', 2);
        } else {
            lg.append('path')
                .attr('d', d3.symbol().type(d3.symbolSquare).size(item.legendSize || 26)())
                .attr('transform', 'translate(' + item.mx + ',' + item.y + ') rotate(45)')
                .attr('fill', 'none').attr('stroke', COLORS.gray).attr('stroke-width', 1.8);
        }
        addLabel(lg, item, L);
    });
});
</script>
</body>
</html>
